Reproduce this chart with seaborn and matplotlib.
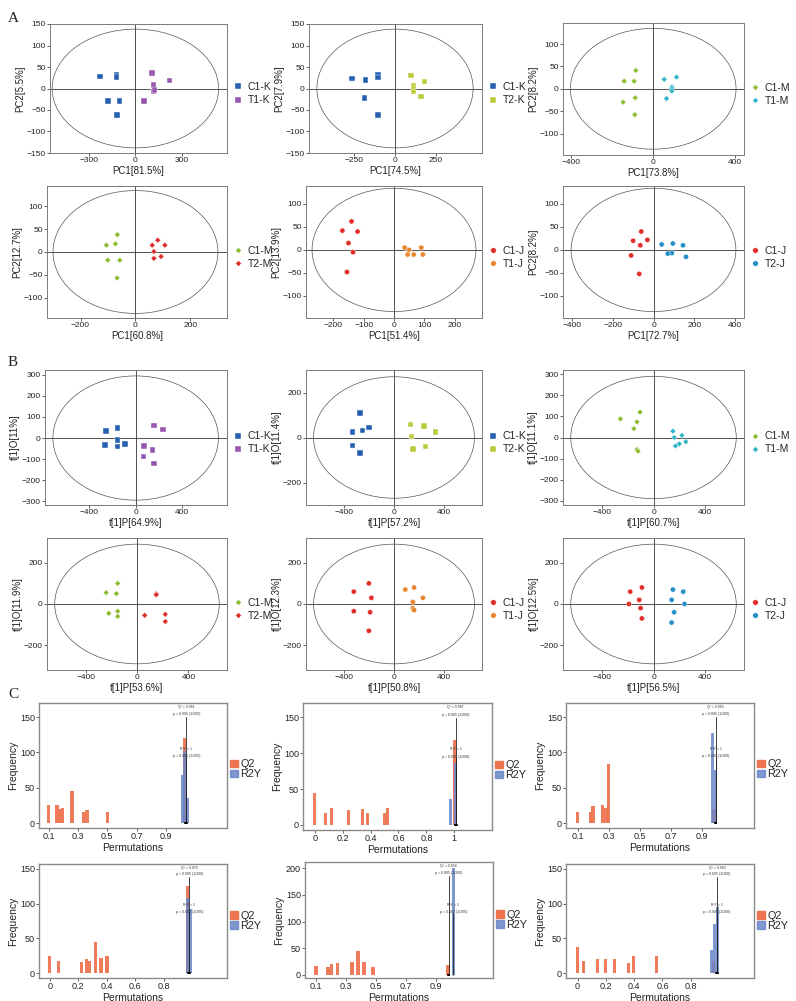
import matplotlib
matplotlib.use('Agg')
import matplotlib.pyplot as plt
import seaborn as sns
import pandas as pd
import numpy as np
from matplotlib.patches import Ellipse, Patch
from matplotlib.lines import Line2D

sns.set_theme(style='white')
plt.rcParams['font.family'] = ['Liberation Sans', 'DejaVu Sans']

W, H = 796, 1001
fig = plt.figure(figsize=(W / 100, H / 100), dpi=100)

def box(l, t, r, b):
    return fig.add_axes([l / W, 1 - b / H, (r - l) / W, (b - t) / H])

# ---------------- colours ----------------
COL = {'C1-K': '#2660B0', 'T1-K': '#9656B0', 'T2-K': '#BCCB3C',
       'C1-M': '#8CBB2E', 'T1-M': '#2EB5C6', 'T2-M': '#DD2A2A',
       'C1-J': '#E02E2A', 'T1-J': '#E8862E', 'T2-J': '#2590C8'}
MRK = {'K': 's', 'M': 'D', 'J': 'o'}
SIZE = {'K': 16, 'M': 9, 'J': 14}

# ---------------- PCA panels (A) ----------------
a1_g = ['C1-K', 'T1-K']
a1_x1 = [-229, -122, -122, -178, -103, -118]
a1_y1 = [28, 33, 27, -29, -29, -61]
a1_x2 = [107, 118, 118, 122, 221, 54]
a1_y2 = [36, 8, -7, -3, 19, -29]

a2_g = ['C1-K', 'T2-K']
a2_x1 = [-262, -181, -102, -102, -187, -102]
a2_y1 = [23, 20, 32, 26, -22, -61]
a2_x2 = [96, 112, 112, 112, 179, 159]
a2_y2 = [30, 7, -1, -7, 16, -19]

a3_g = ['C1-M', 'T1-M']
a3_x1 = [-85, -142, -93, -88, -147, -90]
a3_y1 = [41, 17, 17, -20, -30, -58]
a3_x2 = [54, 114, 91, 91, 91, 65]
a3_y2 = [21, 26, 4, 0, -5, -22]

a4_g = ['C1-M', 'T2-M']
a4_x1 = [-66, -106, -73, -101, -57, -67]
a4_y1 = [38, 15, 18, -18, -18, -57]
a4_x2 = [81, 61, 107, 67, 93, 67]
a4_y2 = [26, 15, 15, 1, -10, -14]

a5_g = ['C1-J', 'T1-J']
a5_x1 = [-140, -170, -120, -150, -135, -155]
a5_y1 = [62, 42, 40, 15, -5, -48]
a5_x2 = [35, 50, 90, 45, 65, 95]
a5_y2 = [5, 0, 5, -10, -10, -10]

a6_g = ['C1-J', 'T2-J']
a6_x1 = [-100, -60, -30, -65, -110, -70]
a6_y1 = [20, 40, 22, 10, -12, -52]
a6_x2 = [40, 95, 145, 90, 70, 160]
a6_y2 = [12, 14, 10, -7, -8, -15]

# ---------------- OPLS-DA panels (B) ----------------
b1_g = ['C1-K', 'T1-K']
b1_x1 = [-257, -157, -157, -263, -157, -91]
b1_y1 = [32, 48, -10, -32, -40, -27]
b1_x2 = [157, 237, 71, 146, 66, 157]
b1_y2 = [59, 40, -37, -56, -87, -121]

b2_g = ['C1-K', 'T2-K']
b2_x1 = [-330, -250, -200, -270, -330, -270]
b2_y1 = [25, 32, 45, 108, -35, -70]
b2_x2 = [130, 240, 330, 140, 250, 150]
b2_y2 = [58, 50, 25, 5, -40, -52]

b3_g = ['C1-M', 'T1-M']
b3_x1 = [-256, -128, -104, -152, -128, -120]
b3_y1 = [88, 74, 120, 42, -57, -65]
b3_x2 = [150, 220, 160, 250, 170, 200]
b3_y2 = [30, 10, 0, -20, -40, -30]

b4_g = ['C1-M', 'T2-M']
b4_x1 = [-240, -160, -220, -150, -150, -150]
b4_y1 = [55, 50, -45, -35, -60, 100]
b4_x2 = [150, 150, 220, 60, 220, 150]
b4_y2 = [50, 45, -50, -55, -85, 45]

b5_g = ['C1-J', 'T1-J']
b5_x1 = [-320, -200, -180, -320, -190, -200]
b5_y1 = [60, 100, 30, -35, -40, -130]
b5_x2 = [90, 160, 230, 150, 150, 160]
b5_y2 = [70, 80, 30, 10, -20, -30]

b6_g = ['C1-J', 'T2-J']
b6_x1 = [-180, -90, -110, -100, -190, -90]
b6_y1 = [60, 80, 20, -20, 0, -70]
b6_x2 = [150, 230, 140, 240, 160, 140]
b6_y2 = [70, 60, 20, 0, -40, -90]

scatter_panels = [
    ((50, 24, 227, 153), a1_g, a1_x1, a1_y1, a1_x2, a1_y2, 'PC1[81.5%]', 'PC2[5.5%]',
     (-550, 590), (-150, 150), [-300, 0, 300], [-150, -100, -50, 0, 50, 100, 150], (536, 138)),
    ((309, 24, 482, 153), a2_g, a2_x1, a2_y1, a2_x2, a2_y2, 'PC1[74.5%]', 'PC2[7.9%]',
     (-524, 530), (-150, 150), [-250, 0, 250], [-150, -100, -50, 0, 50, 100, 150], (476, 138)),
    ((563, 23, 744, 155), a3_g, a3_x1, a3_y1, a3_x2, a3_y2, 'PC1[73.8%]', 'PC2[8.2%]',
     (-441, 444), (-148, 147), [-400, 0, 400], [-100, -50, 0, 50, 100], (405, 135)),
    ((47, 186, 227, 318), a4_g, a4_x1, a4_y1, a4_x2, a4_y2, 'PC1[60.8%]', 'PC2[12.7%]',
     (-322, 333), (-145, 145), [-200, 0, 200], [-100, -50, 0, 50, 100], (300, 135)),
    ((306, 186, 482, 318), a5_g, a5_x1, a5_y1, a5_x2, a5_y2, 'PC1[51.4%]', 'PC2[13.9%]',
     (-290, 290), (-148, 139), [-200, -100, 0, 100, 200], [-100, -50, 0, 50, 100], (270, 134)),
    ((563, 186, 744, 318), a6_g, a6_x1, a6_y1, a6_x2, a6_y2, 'PC1[72.7%]', 'PC2[8.2%]',
     (-445, 445), (-148, 139), [-400, -200, 0, 200, 400], [-100, -50, 0, 50, 100], (405, 134)),
    ((45, 370, 227, 505), b1_g, b1_x1, b1_y1, b1_x2, b1_y2, 't[1]P[64.9%]', 't[1]O[11%]',
     (-780, 786), (-317, 322), [-400, 0, 400], [-300, -200, -100, 0, 100, 200, 300], (712, 294)),
    ((306, 370, 482, 505), b2_g, b2_x1, b2_y1, b2_x2, b2_y2, 't[1]P[57.2%]', 't[1]O[11.4%]',
     (-700, 700), (-300, 300), [-400, 0, 400], [-200, 0, 200], (640, 270)),
    ((563, 370, 744, 505), b3_g, b3_x1, b3_y1, b3_x2, b3_y2, 't[1]P[60.7%]', 't[1]O[11.1%]',
     (-700, 700), (-320, 320), [-400, 0, 400], [-300, -200, -100, 0, 100, 200, 300], (640, 290)),
    ((47, 538, 227, 670), b4_g, b4_x1, b4_y1, b4_x2, b4_y2, 't[1]P[53.6%]', 't[1]O[11.9%]',
     (-700, 700), (-320, 320), [-400, 0, 400], [-200, 0, 200], (640, 290)),
    ((306, 538, 482, 670), b5_g, b5_x1, b5_y1, b5_x2, b5_y2, 't[1]P[50.8%]', 't[1]O[12.3%]',
     (-700, 700), (-320, 320), [-400, 0, 400], [-200, 0, 200], (640, 290)),
    ((563, 538, 744, 670), b6_g, b6_x1, b6_y1, b6_x2, b6_y2, 't[1]P[56.5%]', 't[1]O[12.5%]',
     (-700, 700), (-320, 320), [-400, 0, 400], [-200, 0, 200], (640, 290)),
]

FRAME = '#7a7a7a'
for (bx, groups, x1, y1, x2, y2, xl, yl, xlim, ylim, xt, yt, ell) in scatter_panels:
    ax = box(*bx)
    df = pd.DataFrame({'x': list(x1) + list(x2), 'y': list(y1) + list(y2),
                       'group': [groups[0]] * len(x1) + [groups[1]] * len(x2)})
    kind = groups[0][-1]
    ax.axhline(0, color='#333333', lw=0.6, zorder=1)
    ax.axvline(0, color='#333333', lw=0.6, zorder=1)
    ax.add_patch(Ellipse((0, 0), 2 * ell[0], 2 * ell[1], fill=False,
                         edgecolor='#555555', lw=0.5, zorder=1))
    sns.scatterplot(data=df, x='x', y='y', hue='group', palette=COL, marker=MRK[kind],
                    s=SIZE[kind], edgecolor='white', linewidth=0.3, ax=ax, legend=False, zorder=3)
    ax.set_xlim(*xlim)
    ax.set_ylim(*ylim)
    ax.set_xticks(xt)
    ax.set_yticks(yt)
    ax.tick_params(axis='both', labelsize=6, length=2, width=0.5, pad=1, colors='#222222',
                   bottom=True, left=True)
    ax.set_xlabel(xl, fontsize=7, labelpad=1, color='#222222')
    ax.set_ylabel(yl, fontsize=7, labelpad=1, color='#222222')
    for sp in ax.spines.values():
        sp.set_color(FRAME)
        sp.set_linewidth(0.7)
    handles = [Line2D([], [], ls='', marker=MRK[kind], color=COL[g], markersize=4 if kind != 'M' else 3,
                      markeredgecolor='white', markeredgewidth=0.3) for g in groups]
    ax.legend(handles, groups, loc='center left', bbox_to_anchor=(1.0, 0.46), frameon=False,
              fontsize=7.5, handlelength=0.8, handletextpad=0.5, labelspacing=0.3, borderaxespad=0.3)

# ---------------- permutation histograms (C) ----------------
Q2C = '#EE7450'
R2C = '#6A86C8'

c1_qx = [0.1, 0.157, 0.177, 0.197, 0.259, 0.339, 0.362, 0.5, 1.03]
c1_qh = [25, 25, 20, 22, 46, 15, 18, 15, 120]
c1_rx = [1.015, 1.03, 1.05]
c1_rh = [68, 102, 35]

c2_qx = [0.0, 0.08, 0.12, 0.24, 0.34, 0.38, 0.5, 0.52, 1.0]
c2_qh = [45, 17, 24, 21, 22, 16, 16, 24, 118]
c2_rx = [0.976, 1.007]
c2_rh = [36, 86]

c3_qx = [0.1, 0.182, 0.2, 0.26, 0.283, 0.30, 0.98]
c3_qh = [15, 15, 24, 25, 22, 83, 20]
c3_rx = [0.97, 0.99]
c3_rh = [128, 75]

c4_qx = [0.0, 0.059, 0.221, 0.259, 0.28, 0.322, 0.36, 0.402, 0.965]
c4_qh = [24, 18, 16, 20, 17, 45, 22, 24, 125]
c4_rx = [0.965, 0.99]
c4_rh = [108, 92]

c5_qx = [0.1, 0.18, 0.202, 0.242, 0.34, 0.38, 0.42, 0.48, 0.98]
c5_qh = [17, 15, 21, 22, 24, 44, 24, 15, 19]
c5_rx = [1.016]
c5_rh = [200]

c6_qx = [0.0, 0.04, 0.139, 0.2, 0.259, 0.358, 0.398, 0.558, 0.958]
c6_qh = [38, 17, 21, 21, 20, 15, 24, 24, 18]
c6_rx = [0.948, 0.967, 0.99]
c6_rh = [34, 70, 95]

c_q2_text = ['0.981', '0.987', '0.980', '0.978', '0.958', '0.980']

hist_panels = [
    ((39, 703, 227, 828), c1_qx, c1_qh, c1_rx, c1_rh, (0.034, 1.318), (-7, 170),
     [0.1, 0.3, 0.5, 0.7, 0.9], [0, 50, 100, 150], ['0.1', '0.3', '0.5', '0.7', '0.9'], 1.04, 1.04, c_q2_text[0], 0.47),
    ((303, 703, 492, 830), c2_qx, c2_qh, c2_rx, c2_rh, (-0.084, 1.27), (-7, 170),
     [0, 0.2, 0.4, 0.6, 0.8, 1.0], [0, 50, 100, 150], ['0', '0.2', '0.4', '0.6', '0.8', '1'], 1.01, 1.01, c_q2_text[1], 0.47),
    ((566, 703, 754, 828), c3_qx, c3_qh, c3_rx, c3_rh, (0.025, 1.238), (-7, 170),
     [0.1, 0.3, 0.5, 0.7, 0.9], [0, 50, 100, 150], ['0.1', '0.3', '0.5', '0.7', '0.9'], 0.99, 0.99, c_q2_text[2], 0.47),
    ((39, 864, 227, 978), c4_qx, c4_qh, c4_rx, c4_rh, (-0.075, 1.245), (-7, 157),
     [0, 0.2, 0.4, 0.6, 0.8], [0, 50, 100, 150], ['0', '0.2', '0.4', '0.6', '0.8'], 0.98, 0.98, c_q2_text[3], 0.5),
    ((305, 862, 493, 978), c5_qx, c5_qh, c5_rx, c5_rh, (0.027, 1.28), (-6, 212),
     [0.1, 0.3, 0.5, 0.7, 0.9], [0, 50, 100, 150, 200], ['0.1', '0.3', '0.5', '0.7', '0.9'], 0.984, 1.015, c_q2_text[4], 0.5),
    ((566, 864, 754, 978), c6_qx, c6_qh, c6_rx, c6_rh, (-0.082, 1.247), (-7, 157),
     [0, 0.2, 0.4, 0.6, 0.8], [0, 50, 100, 150], ['0', '0.2', '0.4', '0.6', '0.8'], 0.985, 0.985, c_q2_text[5], 0.5),
]

for (bx, qx, qh, rx, rh, xlim, ylim, xt, yt, xtl, q2x, r2x, q2t, legy) in hist_panels:
    ax = box(*bx)
    ax.bar(qx, qh, width=0.022, color=Q2C, alpha=0.95, zorder=2, linewidth=0)
    ax.bar(rx, rh, width=0.022, color=R2C, alpha=0.85, zorder=3, linewidth=0)
    ytop = ylim[1]
    ax.plot([q2x, q2x], [0, ytop * 0.88], color='#222222', lw=0.6, zorder=4)
    ax.plot([r2x, r2x], [0, ytop * 0.55], color='#222222', lw=0.6, zorder=4)
    ax.plot([q2x - 0.006, q2x + 0.006], [0, 0], color='black', lw=1.5, zorder=5)
    ax.text(q2x, ytop * 0.965, 'Q² = ' + q2t, fontsize=2.5, ha='center', va='center', color='#333333')
    ax.text(q2x, ytop * 0.905, 'p = 0.005 (1/200)', fontsize=2.5, ha='center', va='center', color='#333333')
    ax.text(r2x, ytop * 0.62, 'R²Y = 1', fontsize=2.5, ha='center', va='center', color='#333333')
    ax.text(r2x, ytop * 0.56, 'p = 0.005 (1/200)', fontsize=2.5, ha='center', va='center', color='#333333')
    ax.set_xlim(*xlim)
    ax.set_ylim(*ylim)
    ax.set_xticks(xt)
    ax.set_xticklabels(xtl)
    ax.set_yticks(yt)
    ax.tick_params(axis='both', labelsize=6.5, length=2, width=0.5, pad=1, colors='#222222',
                   bottom=True, left=True)
    ax.set_xlabel('Permutations', fontsize=7.5, labelpad=1, color='#222222')
    ax.set_ylabel('Frequency', fontsize=7.5, labelpad=1, color='#222222')
    for sp in ax.spines.values():
        sp.set_color('#8a8a8a')
        sp.set_linewidth(1.0)
    handles = [Patch(color=Q2C), Patch(color=R2C, alpha=0.85)]
    ax.legend(handles, ['Q2', 'R2Y'], loc='center left', bbox_to_anchor=(1.0, legy), frameon=False,
              fontsize=7.8, handlelength=0.75, handleheight=0.75, handletextpad=0.2, labelspacing=0.0,
              borderpad=0.2, borderaxespad=0.1)

# panel letters
for s, y in [('A', 18), ('B', 362), ('C', 695)]:
    fig.text(8 / W, 1 - y / H, s, fontsize=11, family=['Liberation Serif', 'DejaVu Serif'],
             va='center', ha='left', color='#222222')

fig.savefig('out.png', dpi=100)
